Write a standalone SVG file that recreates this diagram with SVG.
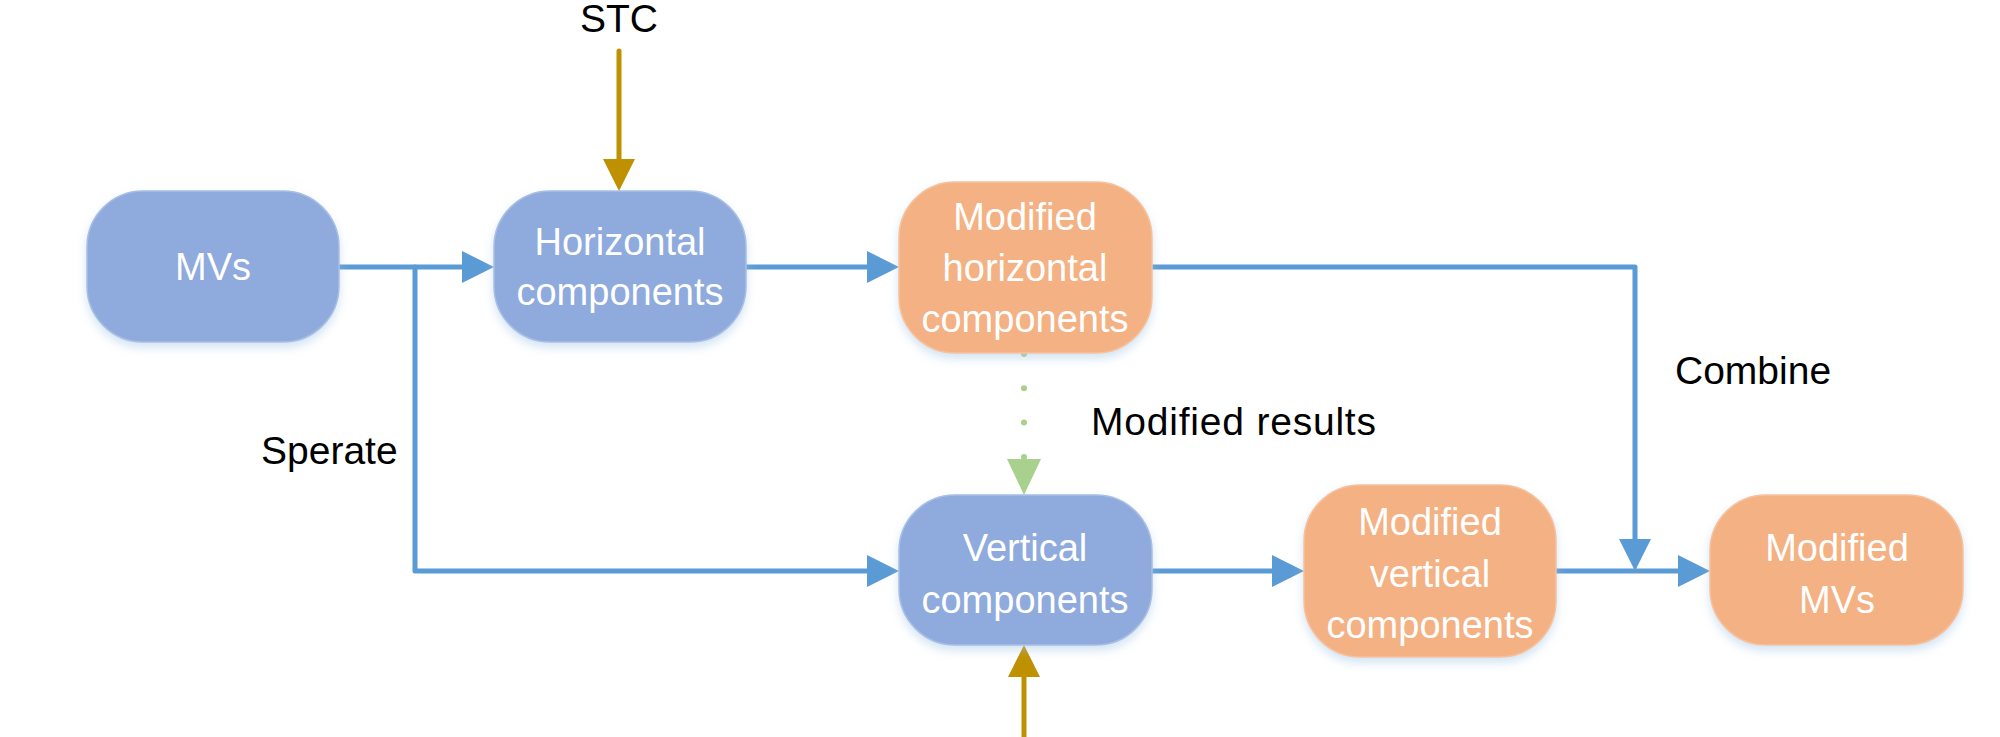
<svg xmlns="http://www.w3.org/2000/svg" width="2000" height="737" viewBox="0 0 2000 737">
<defs>
<filter id="sh" x="-20%" y="-20%" width="140%" height="150%">
<feDropShadow dx="0" dy="5" stdDeviation="5" flood-color="#9DC3E6" flood-opacity="0.45"/>
</filter>
<marker id="ab" markerUnits="userSpaceOnUse" viewBox="0 0 32 32" markerWidth="32" markerHeight="32" refX="22" refY="16" orient="auto"><path d="M0,0 L32,16 L0,32 Z" fill="#5B9BD5"/></marker>
<marker id="ag" markerUnits="userSpaceOnUse" viewBox="0 0 32 32" markerWidth="32" markerHeight="32" refX="22" refY="16" orient="auto"><path d="M0,0 L32,16 L0,32 Z" fill="#BF9000"/></marker>
<marker id="agr" markerUnits="userSpaceOnUse" viewBox="0 0 36 34" markerWidth="36" markerHeight="34" refX="2" refY="17" orient="auto"><path d="M0,0 L36,17 L0,34 Z" fill="#A9D18E"/></marker>
</defs>
<style>
.blue{fill:#8FAADC;stroke:#A9BEE4;stroke-width:1.5;filter:url(#sh)}
.orange{fill:#F4B183;stroke:#F6C29E;stroke-width:1.5;filter:url(#sh)}
.nt{font-family:"Liberation Sans",Arial,sans-serif;font-size:38px;fill:#FFFFFF;text-anchor:middle}
.lb{font-family:"Liberation Sans",Arial,sans-serif;font-size:39px;fill:#000000}
.cb{fill:none;stroke:#5B9BD5;stroke-width:5;stroke-linejoin:round;stroke-linecap:round}
.cg{fill:none;stroke:#BF9000;stroke-width:5;stroke-linecap:round}
.cd{fill:none;stroke:#A9D18E;stroke-width:6;stroke-linecap:round;stroke-dasharray:0 34.3}
</style>
<rect width="2000" height="737" fill="#FFFFFF"/>
<g id="connectors">
<path class="cb" d="M339,267 L484,267" marker-end="url(#ab)"/>
<path class="cb" d="M415,267 L415,571 L889,571" marker-end="url(#ab)"/>
<path class="cb" d="M746,267 L889,267" marker-end="url(#ab)"/>
<path class="cb" d="M1152,267 L1635,267 L1635,561" marker-end="url(#ab)"/>
<path class="cb" d="M1152,571 L1294,571" marker-end="url(#ab)"/>
<path class="cb" d="M1556,571 L1700,571" marker-end="url(#ab)"/>
<path class="cg" d="M619,51 L619,181" marker-end="url(#ag)"/>
<path class="cg" d="M1024,737 L1024,655" marker-end="url(#ag)"/>
<path class="cd" d="M1024,354 L1024,457"/>
<path d="M1024,457 L1024,461" fill="none" stroke="none" marker-end="url(#agr)"/>
</g>
<g id="label-stc"><text class="lb" x="619" y="32" text-anchor="middle">STC</text></g>
<g id="label-sperate"><text class="lb" x="261" y="464">Sperate</text></g>
<g id="label-modified-results"><text class="lb" x="1091" y="435" textLength="285" lengthAdjust="spacing">Modified results</text></g>
<g id="label-combine"><text class="lb" x="1675" y="384">Combine</text></g>
<g id="node-mvs">
<rect class="blue" x="87" y="191" width="252" height="151" rx="56"/>
<text class="nt" x="213" y="280">MVs</text>
</g>
<g id="node-horizontal">
<rect class="blue" x="494" y="191" width="252" height="151" rx="56"/>
<text class="nt" x="620" y="255">Horizontal</text>
<text class="nt" x="620" y="305">components</text>
</g>
<g id="node-mod-horizontal">
<rect class="orange" x="899" y="182" width="253" height="171" rx="56"/>
<text class="nt" x="1025" y="230">Modified</text>
<text class="nt" x="1025" y="281">horizontal</text>
<text class="nt" x="1025" y="332">components</text>
</g>
<g id="node-vertical">
<rect class="blue" x="899" y="495" width="253" height="150" rx="56"/>
<text class="nt" x="1025" y="561">Vertical</text>
<text class="nt" x="1025" y="613">components</text>
</g>
<g id="node-mod-vertical">
<rect class="orange" x="1304" y="485" width="252" height="172" rx="56"/>
<text class="nt" x="1430" y="535">Modified</text>
<text class="nt" x="1430" y="587">vertical</text>
<text class="nt" x="1430" y="638">components</text>
</g>
<g id="node-mod-mvs">
<rect class="orange" x="1710" y="495" width="253" height="150" rx="56"/>
<text class="nt" x="1837" y="561">Modified</text>
<text class="nt" x="1837" y="613">MVs</text>
</g>
</svg>
